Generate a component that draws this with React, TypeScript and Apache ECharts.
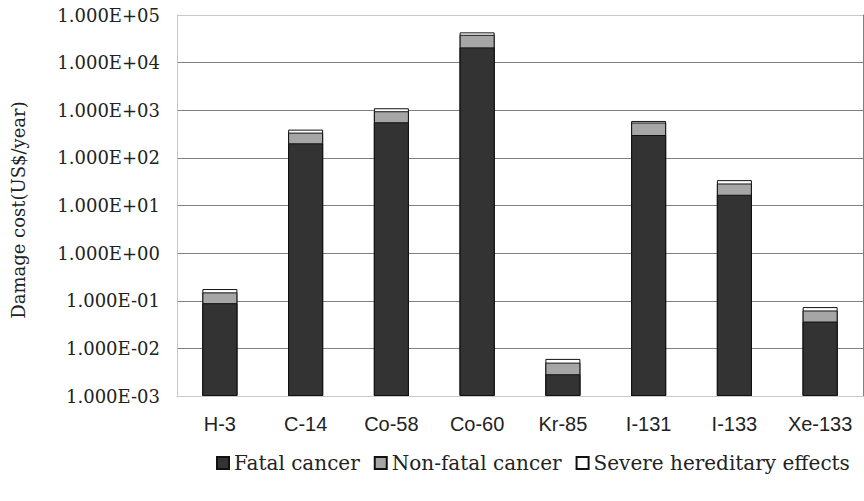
import React, { useEffect, useRef } from "react";
import * as echarts from "echarts";

const categories = ["H-3", "C-14", "Co-58", "Co-60", "Kr-85", "I-131", "I-133", "Xe-133"];
const fatalCancer = [0.089, 202, 559, 20900, 0.00286, 302, 16.8, 0.0366];
const nonFatalCancer = [0.061, 137, 394, 17500, 0.00216, 251, 12.2, 0.0259];
const hereditaryEffects = [0.026, 53, 148, 4800, 0.00099, 43, 5.1, 0.0111];
const minExponent = -3;
const maxExponent = 5;

// Log-scale stacking: each bar is drawn from the axis bottom to log10(cumulative value)
const toAxis = (v: number) => Math.log10(v) - minExponent;

const fmtTick = (v: number) => {
  const e = Math.round(v + minExponent);
  const sign = e < 0 ? "-" : "+";
  const abs = Math.abs(e);
  return "1.000E" + sign + (abs < 10 ? "0" + abs : String(abs));
};

export default function App() {
  const ref = useRef<HTMLDivElement>(null);
  useEffect(() => {
    if (!ref.current) return;
    const chart = echarts.init(ref.current, null, { renderer: "svg" });
    const cumFatal = fatalCancer.map((v) => v);
    const cumNonFatal = fatalCancer.map((v, i) => v + nonFatalCancer[i]);
    const cumTotal = fatalCancer.map((v, i) => v + nonFatalCancer[i] + hereditaryEffects[i]);
    const span = maxExponent - minExponent;
    const splitColors: string[] = [];
    for (let i = 0; i <= span; i++) splitColors.push(i === 0 || i === span ? "#c8c8c8" : "#808080");

    chart.setOption({
      animation: false,
      backgroundColor: "#ffffff",
      grid: { left: 177, right: 1, top: 15, bottom: 105, containLabel: false },
      graphic: [
        {
          type: "text",
          x: 18,
          y: 210,
          rotation: Math.PI / 2,
          style: {
            text: "Damage cost(US$/year)",
            fontFamily: "DejaVu Serif",
            fontSize: 18,
            fill: "#222",
            align: "center",
            verticalAlign: "middle",
          },
        },
      ],
      legend: {
        left: 211,
        top: 448,
        itemWidth: 12,
        itemHeight: 12,
        itemGap: 14,
        data: [
          { name: "Fatal cancer", icon: "rect" },
          { name: "Non-fatal cancer", icon: "rect" },
          { name: "Severe hereditary effects", icon: "rect" },
        ],
        textStyle: { fontFamily: "DejaVu Serif", fontSize: 20, color: "#222" },
      },
      xAxis: {
        type: "category",
        data: categories,
        axisTick: { show: false },
        axisLine: { lineStyle: { color: "#c8c8c8", width: 1 } },
        axisLabel: { fontFamily: "Liberation Sans", fontSize: 20, color: "#222", margin: 18 },
      },
      yAxis: [
        {
          type: "value",
          min: 0,
          max: span,
          interval: 1,
          axisLine: { show: true, lineStyle: { color: "#c8c8c8" } },
          axisTick: { show: false },
          axisLabel: { formatter: fmtTick, fontFamily: "DejaVu Serif", fontSize: 18, color: "#222", margin: 17 },
          splitLine: { show: true, lineStyle: { color: splitColors, width: 1 } },
        },
        {
          type: "value",
          min: 0,
          max: span,
          interval: 1,
          position: "right",
          axisLine: { show: true, lineStyle: { color: "#808080" } },
          axisTick: { show: false },
          axisLabel: { show: false },
          splitLine: { show: false },
        },
      ],
      series: [
        {
          name: "Severe hereditary effects",
          type: "bar",
          barWidth: 35,
          barGap: "-100%",
          data: cumTotal.map(toAxis),
          itemStyle: { color: "#ffffff", borderColor: "#111", borderWidth: 1 },
        },
        {
          name: "Non-fatal cancer",
          type: "bar",
          barWidth: 35,
          barGap: "-100%",
          data: cumNonFatal.map(toAxis),
          itemStyle: { color: "#a6a6a6", borderColor: "#111", borderWidth: 1 },
        },
        {
          name: "Fatal cancer",
          type: "bar",
          barWidth: 35,
          barGap: "-100%",
          data: cumFatal.map(toAxis),
          itemStyle: { color: "#333333", borderColor: "#111", borderWidth: 1 },
        },
      ],
    });
    return () => chart.dispose();
  }, []);
  return <div ref={ref} style={{ width: 864, height: 501, position: "absolute", left: 0, top: 0 }} />;
}
